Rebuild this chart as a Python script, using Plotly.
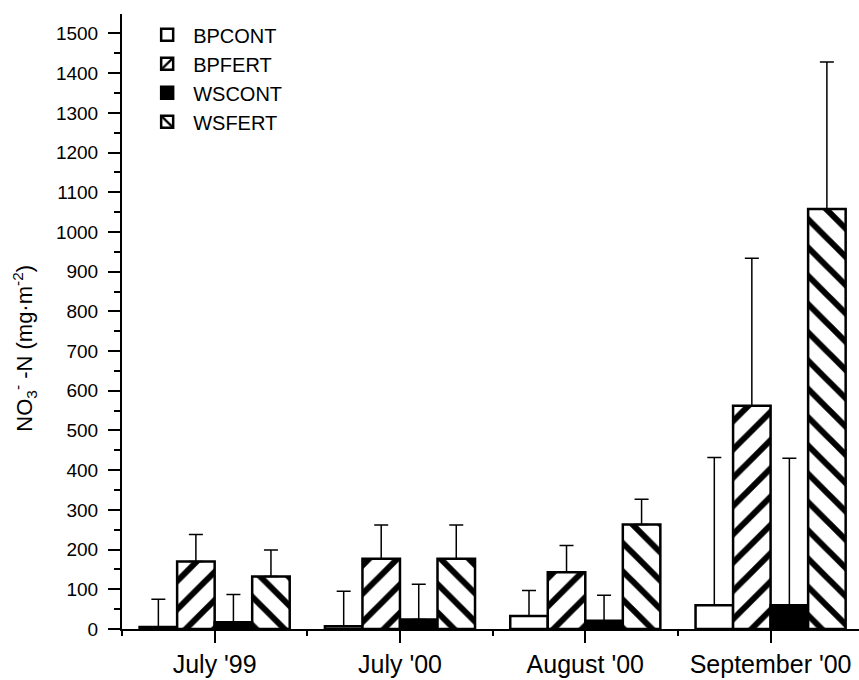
import plotly.graph_objects as go

categories = ["July '99", "July '00", "August '00", "September '00"]
series_names = ["BPCONT", "BPFERT", "WSCONT", "WSFERT"]
bpcont = [5, 7, 33, 60]
bpcont_err = [70, 88, 64, 372]
bpfert = [170, 177, 143, 562]
bpfert_err = [68, 85, 67, 372]
wscont = [17, 24, 21, 60]
wscont_err = [70, 89, 64, 370]
wsfert = [132, 177, 263, 1058]
wsfert_err = [67, 85, 64, 370]

values = [bpcont, bpfert, wscont, wsfert]
errors = [bpcont_err, bpfert_err, wscont_err, wsfert_err]
fills = ["white", "white", "black", "white"]
shapes = ["", "/", "", "\\"]

FONT = "Liberation Sans, Arial, sans-serif"
xpos = list(range(len(categories)))

fig = go.Figure()
for name, vals, errs, fill, shp in zip(series_names, values, errors, fills, shapes):
    fig.add_trace(go.Bar(
        x=xpos, y=vals, name=name,
        marker=dict(color=fill, line=dict(color="black", width=2.5),
                    pattern=dict(shape=shp, fgcolor="black", bgcolor=fill,
                                 fgopacity=1, fillmode="replace",
                                 size=20, solidity=0.3)),
        error_y=dict(type="data", array=errs, arrayminus=[0] * len(errs),
                     symmetric=False, color="black", thickness=1.5, width=7),
    ))

fig.update_layout(
    width=859, height=680,
    margin=dict(l=122, r=0, t=14, b=51),
    paper_bgcolor="white", plot_bgcolor="white",
    barmode="group", bargap=0.19, bargroupgap=0,
    font=dict(family=FONT, color="black"),
    showlegend=True,
    legend=dict(x=0.026, y=0.998, xanchor="left", yanchor="top",
                font=dict(size=20, family=FONT), bgcolor="rgba(0,0,0,0)",
                itemwidth=42, tracegroupgap=0),
    annotations=[dict(
        text="NO<sub>3</sub><sup>-</sup> -N (mg·m<sup>-2</sup>)",
        xref="paper", yref="paper", x=-0.132, y=0.457,
        xanchor="center", yanchor="middle", textangle=-90, showarrow=False,
        font=dict(size=22, family=FONT, color="black"),
    )],
)
fig.update_xaxes(
    range=[-0.5, 3.477], tickmode="array", tickvals=xpos, ticktext=categories,
    showline=True, linecolor="black", linewidth=2, showgrid=False, zeroline=False,
    ticks="outside", ticklen=12, tickwidth=2, tickcolor="black",
    tickfont=dict(size=25, family=FONT),
    minor=dict(tickmode="array", tickvals=[-0.5, 0.5, 1.5, 2.5], ticks="outside",
               ticklen=5, tickwidth=2, tickcolor="black"),
)
fig.update_yaxes(
    range=[0, 1549], tickmode="linear", tick0=0, dtick=100,
    showline=True, linecolor="black", linewidth=2, showgrid=False, zeroline=False,
    ticks="outside", ticklen=12, tickwidth=2, tickcolor="black",
    tickfont=dict(size=19, family=FONT), ticklabelstandoff=6,
    minor=dict(dtick=50, tick0=0, ticks="outside", ticklen=6, tickwidth=2,
               tickcolor="black"),
)

fig.write_html("out.html")
